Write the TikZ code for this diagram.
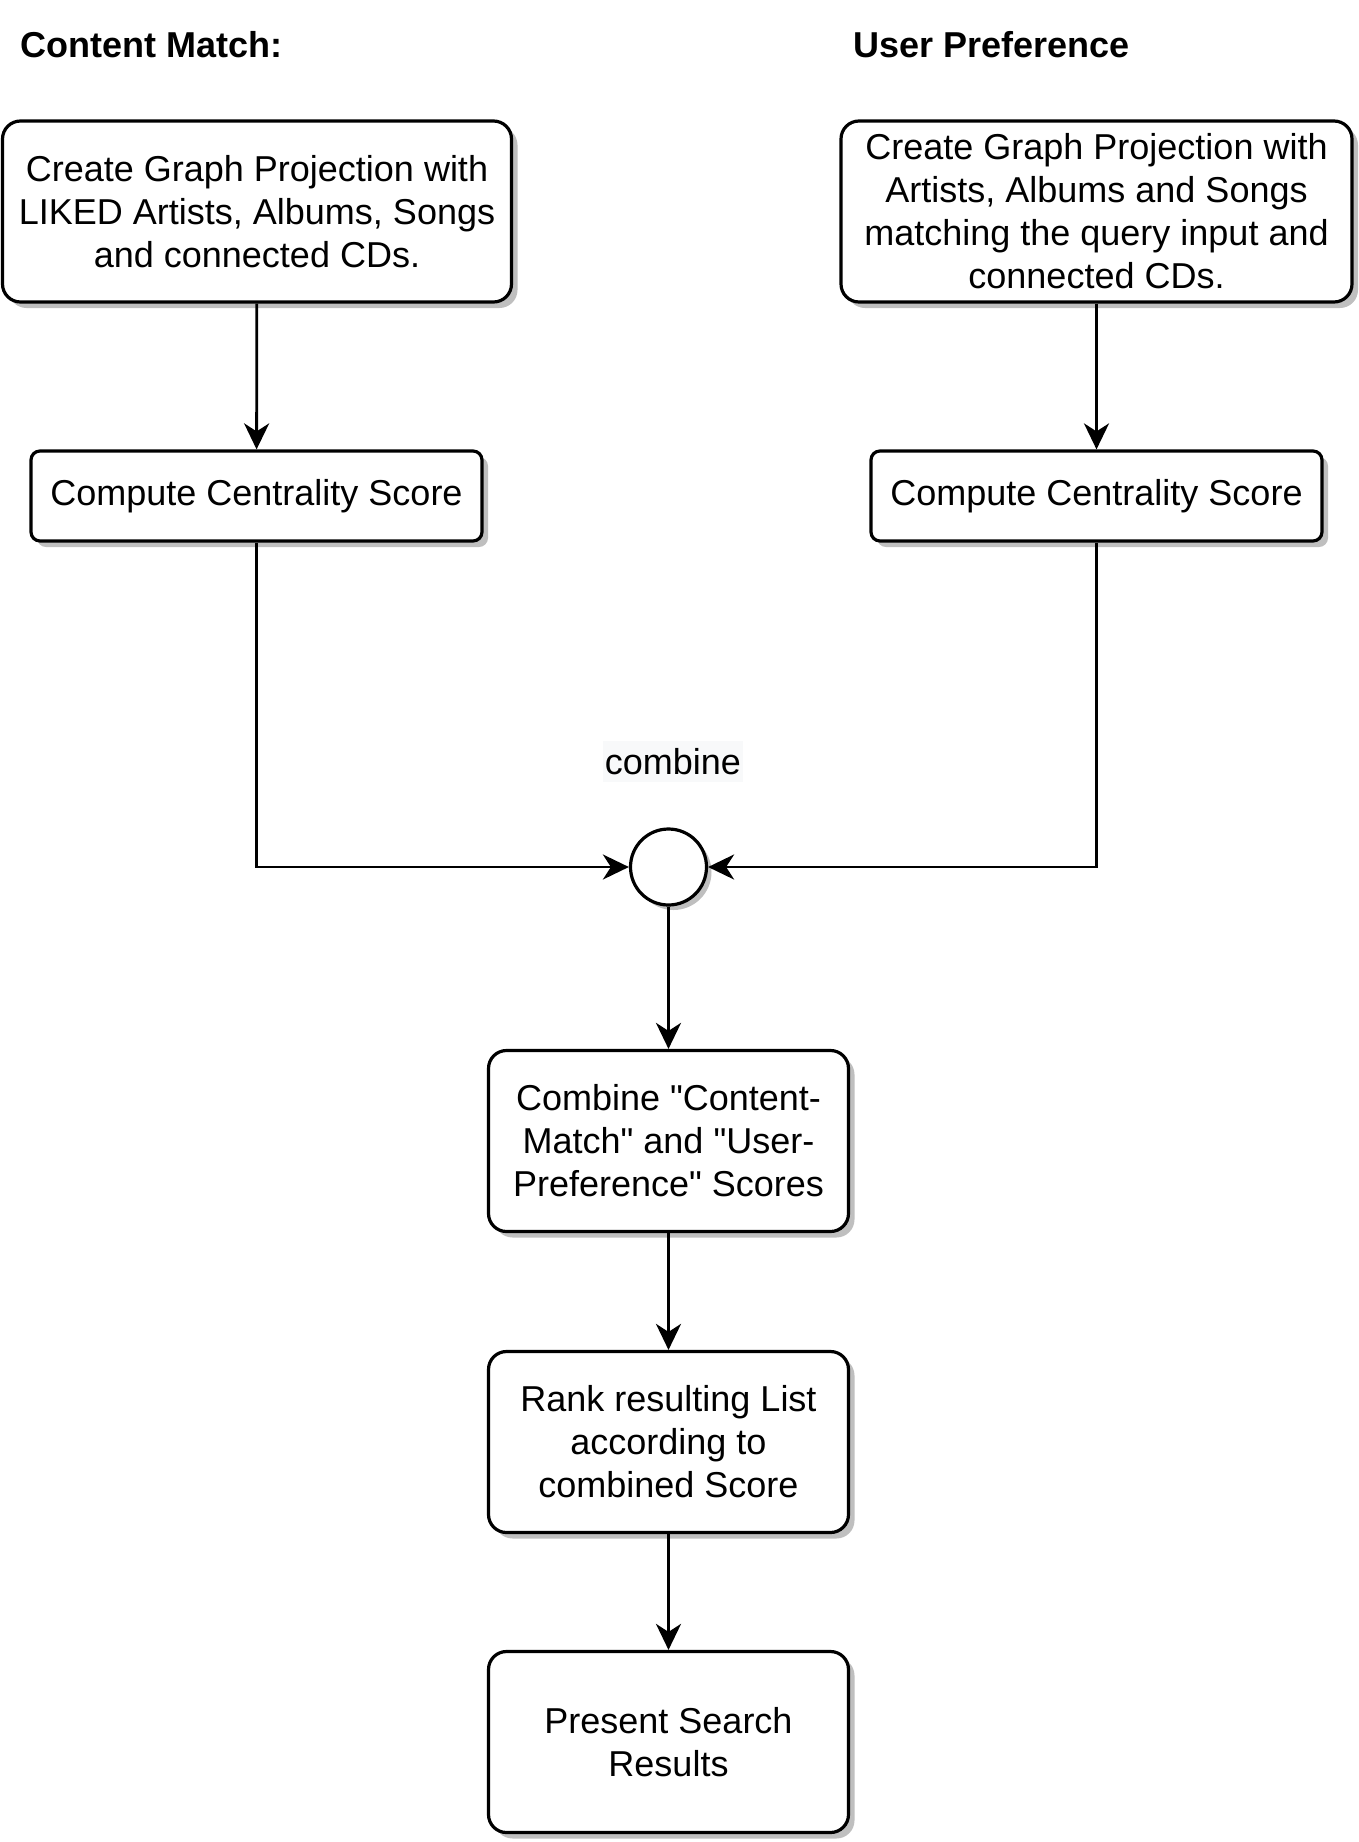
\documentclass[tikz,border=0pt]{standalone}
\usepackage{fontspec}
\setmainfont{Liberation Sans}
\usetikzlibrary{arrows.meta,shadows}
\definecolor{labelbg}{HTML}{F8F9FA}
\begin{document}
\begin{tikzpicture}[x=0.5pt,y=-0.5pt,
		every node/.style={font=\fontsize{18}{21.5}\selectfont},
		title/.style={anchor=west,inner sep=0pt,font=\fontsize{18}{21.5}\selectfont\bfseries},
		box/.style={draw,line width=1.6pt,fill=white,align=center,inner sep=2pt,
			drop shadow={shadow xshift=3pt,shadow yshift=-3pt,fill=black!25,opacity=1}},
		tallbox/.style={box,rounded corners=9pt,minimum height=90.5pt},
		flatbox/.style={box,rounded corners=4.5pt,minimum width=225.5pt,minimum height=45pt},
		flow/.style={-{Stealth[length=13pt,width=12.5pt,inset=4pt]},line width=1.4pt}]
		\useasboundingbox (0,0) rectangle (1359,1842);
		\node[title] (cmtitle) at (20,45) {Content Match:};
		\node[title] (uptitle) at (853,45) {User Preference};
		\node[tallbox,minimum width=254.5pt] (cm1) at (257,211.5) {Create Graph Projection with\\LIKED Artists, Albums, Songs\\and connected CDs.};
		\node[tallbox,minimum width=255.5pt] (up1) at (1096.5,211.5) {Create Graph Projection with\\Artists, Albums and Songs\\matching the query input and\\connected CDs.};
		\node[flatbox] (cm2) at (256.5,496) {Compute Centrality Score};
		\node[flatbox] (up2) at (1096.5,496) {Compute Centrality Score};
		\node[fill=labelbg,inner xsep=1pt,minimum height=20.5pt] (mixlabel) at (673,761.5) {combine};
		\node[draw,circle,line width=1.6pt,fill=white,minimum size=38pt,
			drop shadow={shadow xshift=2.5pt,shadow yshift=-2.5pt,fill=black!25,opacity=1}] (mix) at (668.5,867) {};
		\node[tallbox,minimum width=180pt] (comb) at (668.5,1141) {Combine \textquotedbl Content-\\Match\textquotedbl{} and \textquotedbl User-\\Preference\textquotedbl{} Scores};
		\node[tallbox,minimum width=180pt] (rank) at (668.5,1442) {Rank resulting List\\according to\\combined Score};
		\node[tallbox,minimum width=180pt] (result) at (668.5,1742) {Present Search\\Results};
		\foreach \a/\b in {cm1/cm2,up1/up2,mix/comb,comb/rank,rank/result} {
			\draw[flow] (\a) -- (\b);
		}
		\draw[flow] (cm2) |- (mix);
		\draw[flow] (up2) |- (mix);
\end{tikzpicture}
\end{document}
